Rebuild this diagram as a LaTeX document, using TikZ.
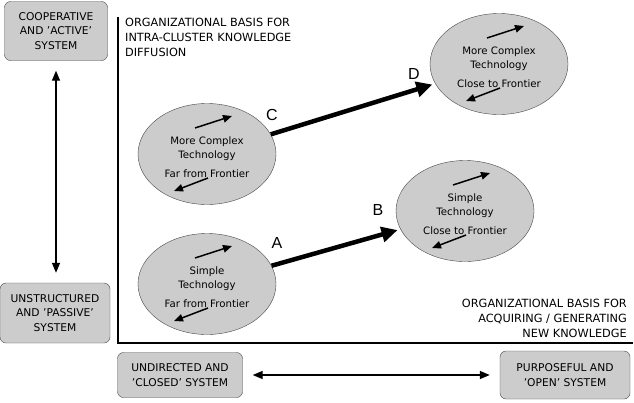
\documentclass[tikz,border=0pt]{standalone}
\usepackage{fontspec}
\setmainfont{DejaVu Sans}
\newfontfamily\pointfont{Liberation Sans}
\usetikzlibrary{arrows.meta, positioning, shapes.geometric}
\definecolor{halftone}{RGB}{204,204,204}
\definecolor{edgegray}{RGB}{70,70,70}

\begin{document}
\begin{tikzpicture}[x=1pt, y=-1pt,
    sysbox/.style={draw=edgegray, fill=halftone, rounded corners=6pt,
      align=center, inner sep=2pt, font=\fontsize{10.7}{14.5}\selectfont},
    techcell/.style={ellipse, draw=edgegray, fill=halftone,
      minimum width=138pt, minimum height=101pt, inner sep=0pt},
    techlabel/.style={align=center, inner sep=0pt, font=\fontsize{10.2}{14}\selectfont},
    axislabel/.style={inner sep=0pt, font=\fontsize{11.3}{15}\selectfont},
    pointlabel/.style={inner sep=0pt, font=\pointfont\fontsize{16}{16}\selectfont},
    leap/.style={-{Triangle[length=16pt, width=15pt]}, line width=4.5pt, shorten >=3pt},
    swirl/.style={-{Triangle[length=9pt, width=7.5pt]}, line width=1.5pt},
    rangearrow/.style={{Triangle[length=10pt, width=8pt]}-{Triangle[length=10pt, width=8pt]},
      line width=1.4pt, shorten <=10pt, shorten >=10pt},
  ]
    \useasboundingbox (0,0) rectangle (634,402);

    % axes
    \coordinate (ytop) at (118,17);
    \coordinate (origin) at (118,343);
    \coordinate (xend) at (633,343);
    \draw[line width=2pt] (ytop) -- (origin) -- (xend);
    \node[axislabel, anchor=north west, align=left] (diffusion) at (125,18)
      {ORGANIZATIONAL BASIS FOR\\INTRA-CLUSTER KNOWLEDGE\\DIFFUSION};
    \node[axislabel, anchor=south east, align=right] (acquiring) at (627,338)
      {ORGANIZATIONAL BASIS FOR\\ACQUIRING / GENERATING\\NEW KNOWLEDGE};

    % system boxes
    \node[sysbox, minimum width=103pt, minimum height=59pt] (coop) at (56,31)
      {COOPERATIVE\\AND 'ACTIVE'\\SYSTEM};
    \node[sysbox, minimum width=110pt, minimum height=60pt] (unstr) at (55,313)
      {UNSTRUCTURED\\AND 'PASSIVE'\\SYSTEM};
    \node[sysbox, minimum width=125pt, minimum height=45pt] (undir) at (180,375)
      {UNDIRECTED AND\\'CLOSED' SYSTEM};
    \node[sysbox, minimum width=130pt, minimum height=48pt] (purp) at (565,375)
      {PURPOSEFUL AND\\'OPEN' SYSTEM};
    \draw[rangearrow] (coop.south) -- (coop.south |- unstr.north);
    \draw[rangearrow] (undir.east) -- (undir.east -| purp.west);

    % technology stages
    \node[techcell] (simpfar) at (207,284) {};
    \node[techcell] (compfar) at (207,154) {};
    \node[techcell] (simpclose) at (465,211) {};
    \node[techcell] (compclose) at (499,64) {};
    \node[techlabel] (simpfartext) at ([shift={(0,3)}]simpfar.center)
      {Simple\\Technology\\[5pt]Far from Frontier};
    \node[techlabel] (compfartext) at ([shift={(0,3)}]compfar.center)
      {More Complex\\Technology\\[5pt]Far from Frontier};
    \node[techlabel] (simpclosetext) at ([shift={(0,3)}]simpclose.center)
      {Simple\\Technology\\[5pt]Close to Frontier};
    \node[techlabel] (compclosetext) at ([shift={(0,3)}]compclose.center)
      {More Complex\\Technology\\[5pt]Close to Frontier};

    \draw[swirl] ([shift={(-12,-26)}]simpfar.center) -- ([shift={(25,-38)}]simpfar.center);
    \draw[swirl] ([shift={(1,24)}]simpfar.center) -- ([shift={(-33,37)}]simpfar.center);
    \draw[swirl] ([shift={(-12,-26)}]compfar.center) -- ([shift={(25,-38)}]compfar.center);
    \draw[swirl] ([shift={(1,24)}]compfar.center) -- ([shift={(-33,37)}]compfar.center);
    \draw[swirl] ([shift={(-12,-26)}]simpclose.center) -- ([shift={(25,-38)}]simpclose.center);
    \draw[swirl] ([shift={(1,24)}]simpclose.center) -- ([shift={(-33,37)}]simpclose.center);
    \draw[swirl] ([shift={(-12,-26)}]compclose.center) -- ([shift={(25,-38)}]compclose.center);
    \draw[swirl] ([shift={(1,24)}]compclose.center) -- ([shift={(-33,37)}]compclose.center);

    % upgrading paths
    \draw[leap] (simpfar) -- (simpclose);
    \draw[leap] (compfar) -- (compclose);
    \node[pointlabel] (ptA) at (277,243) {A};
    \node[pointlabel] (ptB) at (378,210) {B};
    \node[pointlabel] (ptC) at (272,115) {C};
    \node[pointlabel] (ptD) at (414,74) {D};
\end{tikzpicture}
\end{document}
